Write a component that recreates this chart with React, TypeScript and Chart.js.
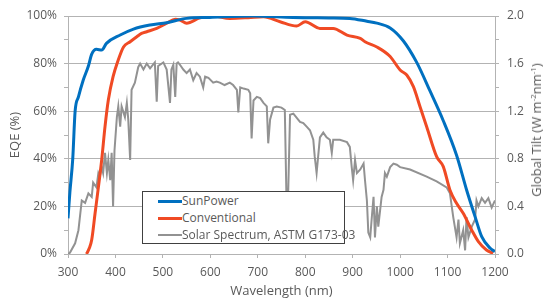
import React, { useEffect, useRef } from "react";
import { Chart, registerables } from "chart.js";

Chart.register(...registerables);

const sunpowerNm = [300, 304, 310, 315, 322, 332, 343, 350, 360, 371, 381, 410, 438, 473, 508, 550, 599, 690, 774, 850, 894, 930, 951, 979, 1007, 1035, 1063, 1091, 1119, 1140, 1158, 1172, 1190, 1200];
const sunpowerEqe = [15, 26, 40, 60, 66, 73, 79, 84, 86, 85.7, 88.5, 92, 94.5, 96.2, 97.2, 99, 99.4, 100, 99.4, 99.2, 99, 97.8, 97, 95, 89.5, 80.5, 68.5, 56, 41.5, 27, 15.7, 7.3, 2.4, 1];

const conventionalNm = [339, 345, 350, 357, 364, 371, 378, 385, 395, 405, 417, 431, 445, 455, 466, 487, 508, 526, 536, 550, 578, 606, 641, 680, 712, 747, 782, 800, 831, 859, 888, 916, 926, 951, 979, 1000, 1014, 1028, 1042, 1056, 1077, 1091, 1105, 1119, 1133, 1151, 1165, 1182, 1196];
const conventionalEqe = [0, 2.5, 6, 17, 28, 39.5, 53.5, 64.7, 74.5, 81, 87, 89.2, 91.3, 92.7, 93.4, 94.8, 97, 98.6, 98.3, 97, 99.2, 100, 99, 99.3, 99.7, 97.6, 95.8, 97.6, 94.8, 94.8, 92, 90.6, 89.2, 87, 83, 77.3, 75.2, 70.3, 61.9, 53.5, 40.9, 36.7, 26.9, 21.3, 17.1, 10, 5.2, 1.7, 0.3];

const spectrumNm = [
  300, 304, 315, 322, 329, 336, 343, 350, 353, 360,
  364, 367, 371, 374, 378, 382, 385, 389, 392, 395,
  398, 403, 406, 410, 413, 420, 424, 427, 431, 434,
  441, 448, 452, 459, 466, 473, 483, 487, 490, 501,
  508, 515, 518, 522, 526, 529, 532, 536, 543, 550,
  557, 564, 571, 578, 585, 589, 596, 606, 613, 620,
  630, 641, 648, 656, 659, 663, 670, 680, 684, 687,
  691, 698, 705, 712, 719, 722, 726, 733, 740, 750,
  757, 761, 764, 768, 775, 789, 796, 803, 810, 817,
  820, 824, 831, 838, 845, 852, 856, 859, 873, 888,
  894, 898, 901, 905, 909, 916, 923, 926, 930, 933,
  937, 941, 944, 947, 951, 954, 961, 965, 968, 972,
  979, 986, 993, 1000, 1021, 1056, 1077, 1098, 1105, 1112,
  1119, 1123, 1126, 1133, 1137, 1140, 1144, 1151, 1158, 1161,
  1165, 1172, 1179, 1186, 1193, 1200,
];
const spectrumIrr = [
  0, 0.01, 0.09, 0.2, 0.45, 0.43, 0.51, 0.48, 0.6, 0.56,
  0.68, 0.65, 0.73, 0.68, 0.85, 0.68, 0.79, 0.62, 0.85, 0.4,
  0.87, 1.15, 1.24, 1.07, 1.24, 1.15, 1.27, 1.13, 0.79, 1.38,
  1.44, 1.57, 1.6, 1.55, 1.6, 1.56, 1.61, 1.28, 1.58, 1.61,
  1.55, 1.27, 1.55, 1.59, 1.32, 1.6, 1.61, 1.59, 1.55, 1.52,
  1.55, 1.46, 1.52, 1.49, 1.4, 1.49, 1.48, 1.44, 1.45, 1.44,
  1.42, 1.44, 1.42, 1.38, 1.19, 1.4, 1.39, 1.38, 1.35, 0.97,
  1.29, 1.32, 1.31, 1.27, 1.24, 0.93, 1.13, 1.23, 1.24, 1.23,
  1.21, 0.35, 0.5, 1.17, 1.18, 1.11, 1.1, 1.07, 1.04, 0.96,
  0.82, 0.68, 0.98, 1.02, 0.98, 0.96, 0.85, 0.96, 0.96, 0.94,
  0.9, 0.73, 0.62, 0.79, 0.68, 0.71, 0.76, 0.62, 0.45, 0.18,
  0.14, 0.34, 0.48, 0.14, 0.4, 0.23, 0.48, 0.54, 0.68, 0.65,
  0.73, 0.76, 0.75, 0.73, 0.71, 0.65, 0.61, 0.56, 0.51, 0.31,
  0.14, 0.29, 0.09, 0.2, 0.03, 0.31, 0.14, 0.23, 0.29, 0.45,
  0.4, 0.47, 0.43, 0.47, 0.39, 0.45,
];

const seriesNames = ["SunPower", "Conventional", "Solar Spectrum, ASTM G173-03"];
const seriesColors = ["#0070c0", "#f04a24", "#929292"];

const TEXT = "#595959";
const GRID = "#b3b3b3";
const FONT = "'Open Sans', sans-serif";

const toPoints = (xs: number[], ys: number[]) => xs.map((x, i) => ({ x, y: ys[i] }));

export default function App() {
  const ref = useRef<HTMLCanvasElement | null>(null);

  useEffect(() => {
    if (!ref.current) return;
    Chart.defaults.font.family = FONT;
    const chart = new Chart(ref.current, {
      type: "line",
      data: {
        datasets: [
          {
            label: seriesNames[0],
            data: toPoints(sunpowerNm, sunpowerEqe),
            borderColor: seriesColors[0],
            borderWidth: 3,
            pointRadius: 0,
            cubicInterpolationMode: "monotone",
            yAxisID: "y",
          },
          {
            label: seriesNames[1],
            data: toPoints(conventionalNm, conventionalEqe),
            borderColor: seriesColors[1],
            borderWidth: 3,
            pointRadius: 0,
            cubicInterpolationMode: "monotone",
            yAxisID: "y",
          },
          {
            label: seriesNames[2],
            data: toPoints(spectrumNm, spectrumIrr),
            borderColor: seriesColors[2],
            borderWidth: 2,
            pointRadius: 0,
            tension: 0,
            yAxisID: "y1",
          },
        ],
      },
      options: {
        animation: false,
        responsive: false,
        maintainAspectRatio: false,
        devicePixelRatio: 1,
        layout: { padding: { top: 16, left: 0, right: 0, bottom: 0 } },
        plugins: { legend: { display: false }, tooltip: { enabled: false } },
        scales: {
          x: {
            type: "linear",
            min: 300,
            max: 1200,
            ticks: {
              stepSize: 100,
              color: TEXT,
              font: { size: 12 },
              padding: 7,
              maxRotation: 0,
              callback: (v: any) => String(v),
            },
            grid: { drawOnChartArea: false, tickLength: 4, tickColor: GRID },
            border: { color: GRID },
            title: { display: true, text: "Wavelength (nm)", color: TEXT, font: { size: 13 }, padding: { top: 0, bottom: 1 } },
            afterFit: (s: any) => { s.height = 46; },
          },
          y: {
            position: "left",
            min: 0,
            max: 100,
            ticks: {
              stepSize: 10,
              color: TEXT,
              font: { size: 12 },
              padding: 7,
              callback: (v: any) => (Number(v) % 20 === 0 ? v + "%" : ""),
            },
            grid: {
              color: (c: any) => (c.tick && c.tick.value % 20 === 0 ? GRID : "rgba(0,0,0,0)"),
              tickColor: GRID,
              tickLength: 4,
            },
            border: { color: GRID },
            title: { display: true, text: "EQE (%)", color: TEXT, font: { size: 13 }, padding: { top: 7, bottom: 0 } },
            afterFit: (s: any) => { s.width = 68; },
          },
          y1: {
            position: "right",
            min: 0,
            max: 2,
            ticks: {
              stepSize: 0.2,
              color: TEXT,
              font: { size: 12 },
              padding: 8,
              callback: (v: any) => (Math.round(Number(v) * 10) % 4 === 0 ? Number(v).toFixed(1) : ""),
            },
            grid: { drawOnChartArea: false, tickColor: GRID, tickLength: 4 },
            border: { color: GRID },
            afterFit: (s: any) => { s.width = 48; },
          },
        },
      } as any,
    });
    return () => chart.destroy();
  }, []);

  const legendRow = (i: number, top: number) => (
    <div key={i} style={{ position: "absolute", left: 0, top, height: 16, width: "100%" }}>
      <div
        style={{
          position: "absolute",
          left: 15,
          top: i === 2 ? 7 : 6.5,
          width: 24,
          height: i === 2 ? 2 : 3,
          background: seriesColors[i],
        }}
      />
      <div style={{ position: "absolute", left: 39, top: 0, lineHeight: "16px", whiteSpace: "nowrap" }}>
        {seriesNames[i]}
      </div>
    </div>
  );

  return (
    <div style={{ position: "absolute", left: 0, top: 0, width: 543, height: 300, background: "#fff" }}>
      <canvas ref={ref} width={543} height={300} style={{ display: "block", width: 543, height: 300 }} />
      <div
        style={{
          position: "absolute",
          left: 142,
          top: 191,
          width: 203,
          height: 53,
          boxSizing: "border-box",
          border: "1px solid #404040",
          background: "#fff",
          fontFamily: FONT,
          fontSize: 12,
          color: TEXT,
        }}
      >
        {legendRow(0, 1)}
        {legendRow(1, 18)}
        {legendRow(2, 35)}
      </div>
      <div
        style={{
          position: "absolute",
          left: 536,
          top: 130,
          transform: "translate(-50%, -50%) rotate(-90deg)",
          whiteSpace: "nowrap",
          fontFamily: FONT,
          fontSize: 13,
          color: TEXT,
          lineHeight: "16px",
        }}
      >
        Global Tilt (W m<sup style={{ fontSize: 8, lineHeight: 0 }}>-2</sup>nm<sup style={{ fontSize: 8, lineHeight: 0 }}>-1</sup>)
      </div>
    </div>
  );
}
